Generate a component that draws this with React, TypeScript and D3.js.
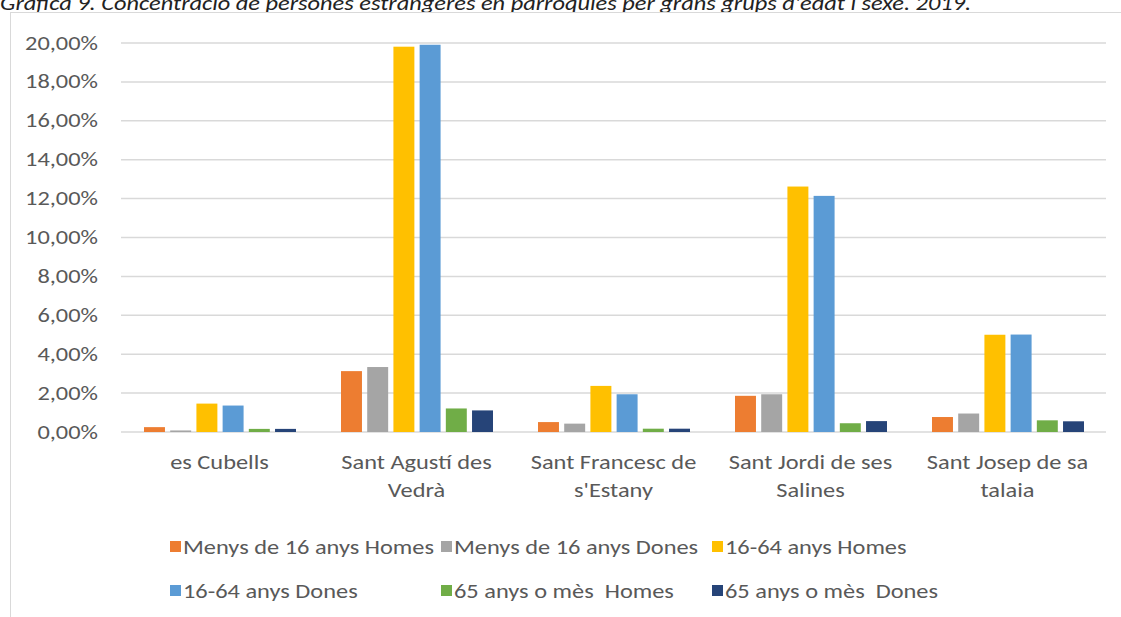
import React from "react";
import * as d3 from "d3";

const categories: string[][] = [
  ["es Cubells"],
  ["Sant Agustí des", "Vedrà"],
  ["Sant Francesc de", "s'Estany"],
  ["Sant Jordi de ses", "Salines"],
  ["Sant Josep de sa", "talaia"],
];
const seriesNames = [
  "Menys de 16 anys Homes",
  "Menys de 16 anys Dones",
  "16-64 anys Homes",
  "16-64 anys Dones",
  "65 anys o mès  Homes",
  "65 anys o mès  Dones",
];
const seriesColors = ["#ED7D31", "#A5A5A5", "#FFC000", "#5B9BD5", "#70AD47", "#264478"];
// values in % per category, one array per series
const menys16Homes = [0.25, 3.13, 0.51, 1.86, 0.77];
const menys16Dones = [0.08, 3.34, 0.43, 1.94, 0.95];
const adultsHomes = [1.46, 19.81, 2.37, 12.62, 5.0];
const adultsDones = [1.36, 19.91, 1.94, 12.14, 5.01];
const gentGranHomes = [0.16, 1.21, 0.17, 0.45, 0.6];
const gentGranDones = [0.16, 1.11, 0.17, 0.56, 0.55];
const seriesValues = [menys16Homes, menys16Dones, adultsHomes, adultsDones, gentGranHomes, gentGranDones];
const yTicks = [0, 2, 4, 6, 8, 10, 12, 14, 16, 18, 20];
const title =
  "Gràfica 9. Concentració de persones estrangeres en parròquies per grans grups d'edat i sexe. 2019.";

const FONT = "Carlito, Calibri, Lato, 'Open Sans', sans-serif";
const TEXT = "#595959";
const SX = 1.22;

function T(props: {
  x: number;
  y: number;
  anchor?: "start" | "middle" | "end";
  size?: number;
  fill?: string;
  italic?: boolean;
  children: React.ReactNode;
}) {
  return (
    <g transform={`translate(${props.x},${props.y}) scale(${SX},1)`}>
      <text
        x={0}
        y={0}
        textAnchor={props.anchor || "start"}
        fontFamily={FONT}
        fontSize={props.size || 20}
        fontStyle={props.italic ? "italic" : "normal"}
        fill={props.fill || TEXT}
        style={{ whiteSpace: "pre" }}
      >
        {props.children}
      </text>
    </g>
  );
}

export default function App() {
  const W = 1121, H = 617;
  const x0 = d3.scaleBand<number>().domain(d3.range(categories.length)).range([121, 1106]).padding(0);
  const x1 = d3.scaleBand<number>().domain(d3.range(seriesNames.length)).range([23, 175]).paddingInner(0.2).paddingOuter(0);
  const y = d3.scaleLinear().domain([0, 20]).range([432, 43]);
  const fmt = (v: number) => v.toFixed(2).replace(".", ",") + "%";
  const legendCols = [170, 441, 712];
  const legendRows = [547, 591];

  return (
    <svg width={W} height={H} style={{ position: "absolute", left: 0, top: 0, background: "#fff" }}>
      <rect x={0} y={0} width={W} height={H} fill="#fff" />
      <T x={0} y={10} italic size={20} fill="#222">{title}</T>
      <rect x={10.5} y={12.5} width={1120} height={620} fill="none" stroke="#d9d9d9" strokeWidth={1} />
      {yTicks.map((t) => (
        <g key={t}>
          <line x1={121} x2={1106} y1={y(t)} y2={y(t)} stroke="#d9d9d9" strokeWidth={1.5} />
          <T x={98} y={y(t) + 6.5} anchor="end">{fmt(t)}</T>
        </g>
      ))}
      {categories.map((c, ci) => (
        <g key={ci} transform={`translate(${x0(ci)},0)`}>
          {seriesValues.map((vals, si) => (
            <rect key={si} x={x1(si)} y={y(vals[ci])} width={x1.bandwidth()} height={y(0) - y(vals[ci])} fill={seriesColors[si]} />
          ))}
          {c.map((line, li) => (
            <T key={li} x={x0.bandwidth() / 2} y={469 + li * 28} anchor="middle">{line}</T>
          ))}
        </g>
      ))}
      {seriesNames.map((s, i) => {
        const lx = legendCols[i % 3];
        const ly = legendRows[Math.floor(i / 3)];
        return (
          <g key={s}>
            <rect x={lx} y={ly - 6} width={11} height={11} fill={seriesColors[i]} />
            <T x={lx + 13} y={ly + 7}>{s}</T>
          </g>
        );
      })}
    </svg>
  );
}
